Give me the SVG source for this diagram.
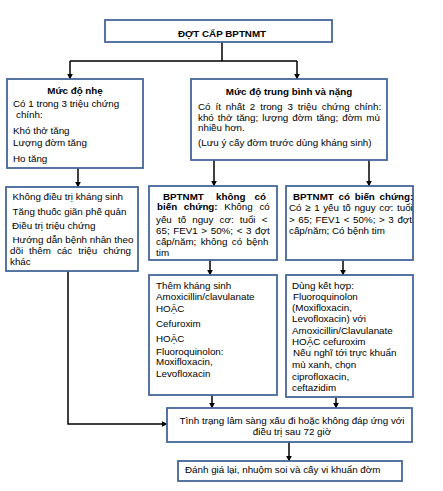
<svg xmlns="http://www.w3.org/2000/svg" width="443" height="491" viewBox="0 0 443 491">
<defs>
<style>
.box{fill:#fff;stroke:#44669a;stroke-width:1.8}
.ln{fill:none;stroke:#000;stroke-width:1.5}
text{font-family:"Liberation Sans",Arial,sans-serif;font-size:9.8px;fill:#000}
.b{font-weight:bold}
.c{text-anchor:middle}
.e{text-anchor:end}
</style>
<marker id="ah" viewBox="0 0 10 10" refX="9" refY="5" markerWidth="6" markerHeight="6" markerUnits="userSpaceOnUse" orient="auto">
<path d="M0,0 L10,5 L0,10 z" fill="#000"/>
</marker>
</defs>
<rect width="443" height="491" fill="#fff"/>
<g id="connectors">
<path class="ln" d="M222,42 V61 M70,61 H297"/>
<path class="ln" d="M70,61 V79" marker-end="url(#ah)"/>
<path class="ln" d="M297,61 V79" marker-end="url(#ah)"/>
<path class="ln" d="M78,168 V187" marker-end="url(#ah)"/>
<path class="ln" d="M214,160 V186" marker-end="url(#ah)"/>
<path class="ln" d="M369,160 V186" marker-end="url(#ah)"/>
<path class="ln" d="M210,260 V275" marker-end="url(#ah)"/>
<path class="ln" d="M343,260 V275" marker-end="url(#ah)"/>
<path class="ln" d="M212,395 V408" marker-end="url(#ah)"/>
<path class="ln" d="M336,397 V408" marker-end="url(#ah)"/>
<path class="ln" d="M68,271 V424 H167" marker-end="url(#ah)"/>
<path class="ln" d="M289,442 V461" marker-end="url(#ah)"/>
</g>
<g id="n-title">
<rect class="box" x="105" y="20" width="227" height="22"/>
<text class="b c" x="222" y="36.5">ĐỢT CẤP BPTNMT</text>
</g>
<g id="n-nhe">
<rect class="box" x="7" y="79" width="136" height="89"/>
<text class="b c" x="75" y="93.5">Mức độ nhẹ</text>
<text x="13" y="107">Có 1 trong 3 triệu chứng</text>
<text x="16" y="118">chính:</text>
<text x="13" y="133.5">Khó thở tăng</text>
<text x="13" y="146">Lượng đờm tăng</text>
<text x="13" y="162">Ho tăng</text>
</g>
<g id="n-tbnang">
<rect class="box" x="191" y="79" width="196" height="81"/>
<text class="b c" x="289" y="95">Mức độ trung bình và nặng</text>
<text x="198" y="109.5" word-spacing="2.2">Có ít nhất 2 trong 3 triệu chứng chính:</text>
<text x="198" y="121" word-spacing="1.3">khó thở tăng; lượng đờm tăng; đờm mủ</text>
<text x="198" y="131">nhiều hơn.</text>
<text x="198" y="146">(Lưu ý cấy đờm trước dùng kháng sinh)</text>
</g>
<g id="n-nhe-dieutri">
<rect class="box" x="6" y="187" width="132" height="84"/>
<text x="12.5" y="200">Không điều trị kháng sinh</text>
<text x="12.5" y="214.5">Tăng thuốc giãn phế quản</text>
<text x="12" y="228.5">Điều trị triệu chứng</text>
<text x="12.5" y="243">Hướng dẫn bệnh nhân theo</text>
<text x="10" y="254" word-spacing="3.3">dõi thêm các triệu chứng</text>
<text x="10" y="265">khác</text>
</g>
<g id="n-khongbien">
<rect class="box" x="149" y="186" width="128" height="74"/>
<text class="b" y="200"><tspan x="163">BPTNMT</tspan><tspan x="216">không</tspan><tspan x="266" class="e">có</tspan></text>
<text x="157" y="210" word-spacing="4"><tspan class="b">biến chứng:</tspan> Không có</text>
<text x="156" y="223" word-spacing="3.4">yếu tố nguy cơ: tuổi &lt;</text>
<text x="156" y="233.5" word-spacing="0.9">65; FEV1 &gt; 50%; &lt; 3 đợt</text>
<text x="156" y="244.5" word-spacing="1.7">cấp/năm; không có bệnh</text>
<text x="156" y="256">tim</text>
</g>
<g id="n-cobien">
<rect class="box" x="286" y="186" width="127" height="74"/>
<text class="b" x="293" y="200" word-spacing="2">BPTNMT có biến chứng:</text>
<text x="289" y="211" word-spacing="0.9">Có ≥ 1 yếu tố nguy cơ: tuổi</text>
<text x="289" y="222.5" word-spacing="0.9">&gt; 65; FEV1 &lt; 50%; &gt; 3 đợt</text>
<text x="289" y="234">cấp/năm; Có bệnh tim</text>
</g>
<g id="n-themks">
<rect class="box" x="149" y="275" width="128" height="120"/>
<text x="156" y="289">Thêm kháng sinh</text>
<text x="156" y="300">Amoxicillin/clavulanate</text>
<text x="156" y="312">HOẶC</text>
<text x="156" y="327">Cefuroxim</text>
<text x="156" y="342">HOẶC</text>
<text x="156" y="354.5">Fluoroquinolon:</text>
<text x="156" y="365">Moxifloxacin,</text>
<text x="156" y="377">Levofloxacin</text>
</g>
<g id="n-ketthop">
<rect class="box" x="286" y="275" width="127" height="122"/>
<text x="292" y="288.5">Dùng kết hợp:</text>
<text x="293" y="299.5">Fluoroquinolon</text>
<text x="292" y="311">(Moxifloxacin,</text>
<text x="292" y="322">Levofloxacin) với</text>
<text x="292" y="333.5">Amoxicillin/Clavulanate</text>
<text x="292" y="344.5">HOẶC cefuroxim</text>
<text x="293" y="356">Nếu nghĩ tới trực khuẩn</text>
<text x="292" y="368">mủ xanh, chọn</text>
<text x="292" y="379.5">ciprofloxacin,</text>
<text x="292" y="391">ceftazidim</text>
</g>
<g id="n-tinhtrang">
<rect class="box" x="167" y="408" width="245" height="34"/>
<text class="c" x="292" y="424">Tình trạng lâm sàng xấu đi hoặc không đáp ứng với</text>
<text class="c" x="292" y="435">điều trị sau 72 giờ</text>
</g>
<g id="n-danhgia">
<rect class="box" x="178" y="461" width="224" height="20"/>
<text x="185" y="472.5">Đánh giá lại, nhuộm soi và cấy vi khuẩn đờm</text>
</g>
</svg>
